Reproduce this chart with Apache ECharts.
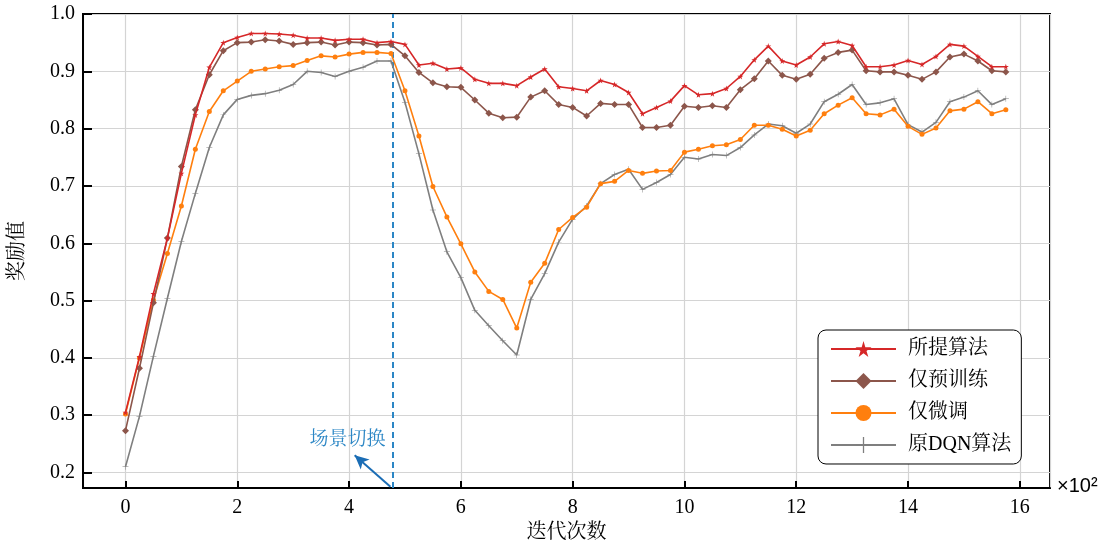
<!DOCTYPE html>
<html>
<head>
<meta charset="utf-8">
<script src="https://cdn.jsdelivr.net/npm/echarts@6/dist/echarts.min.js"></script>
<style>html,body{margin:0;padding:0;background:#fff;}#c{width:1103px;height:546px;}</style>
</head>
<body>
<div id="c"></div>
<script>
// iterations (×10^2)
const iterations = [0,0.25,0.5,0.75,1,1.25,1.5,1.75,2,2.25,2.5,2.75,3,3.25,3.5,3.75,4,4.25,4.5,4.75,5,5.25,5.5,5.75,6,6.25,6.5,6.75,7,7.25,7.5,7.75,8,8.25,8.5,8.75,9,9.25,9.5,9.75,10,10.25,10.5,10.75,11,11.25,11.5,11.75,12,12.25,12.5,12.75,13,13.25,13.5,13.75,14,14.25,14.5,14.75,15,15.25,15.5,15.75];
const seriesNames = ['所提算法','仅预训练','仅微调','原DQN算法'];
const proposed = [0.305,0.402,0.512,0.609,0.722,0.824,0.907,0.950,0.959,0.966,0.966,0.965,0.963,0.958,0.958,0.954,0.956,0.956,0.950,0.952,0.947,0.911,0.914,0.904,0.906,0.886,0.879,0.879,0.875,0.890,0.904,0.873,0.870,0.866,0.884,0.877,0.863,0.826,0.837,0.848,0.875,0.859,0.861,0.870,0.891,0.920,0.944,0.918,0.911,0.925,0.948,0.952,0.945,0.908,0.908,0.911,0.919,0.912,0.926,0.947,0.944,0.926,0.908,0.908];
const pretrainOnly = [0.273,0.382,0.496,0.609,0.734,0.833,0.894,0.936,0.950,0.951,0.955,0.953,0.947,0.950,0.951,0.946,0.951,0.950,0.946,0.947,0.927,0.898,0.880,0.873,0.872,0.850,0.827,0.819,0.820,0.855,0.866,0.842,0.837,0.822,0.844,0.842,0.842,0.802,0.802,0.806,0.839,0.837,0.840,0.837,0.868,0.887,0.918,0.893,0.886,0.895,0.923,0.933,0.937,0.901,0.899,0.899,0.893,0.886,0.899,0.925,0.930,0.918,0.901,0.899];
const finetuneOnly = [0.302,0.400,0.501,0.582,0.665,0.764,0.830,0.866,0.883,0.900,0.904,0.908,0.910,0.919,0.927,0.925,0.930,0.933,0.933,0.931,0.866,0.787,0.699,0.646,0.599,0.550,0.516,0.502,0.452,0.532,0.565,0.624,0.645,0.663,0.704,0.708,0.727,0.722,0.726,0.727,0.759,0.764,0.770,0.772,0.781,0.806,0.806,0.799,0.787,0.797,0.826,0.841,0.854,0.826,0.824,0.834,0.804,0.790,0.801,0.831,0.834,0.847,0.826,0.833];
const originalDQN = [0.210,0.298,0.403,0.504,0.603,0.687,0.767,0.824,0.851,0.858,0.861,0.867,0.877,0.900,0.898,0.891,0.900,0.907,0.918,0.918,0.846,0.756,0.658,0.585,0.540,0.483,0.456,0.430,0.405,0.502,0.547,0.602,0.642,0.665,0.704,0.720,0.729,0.694,0.706,0.720,0.750,0.747,0.755,0.753,0.767,0.789,0.808,0.805,0.792,0.808,0.847,0.860,0.877,0.842,0.845,0.852,0.807,0.794,0.811,0.847,0.855,0.866,0.842,0.852];
const switchX = 4.78;
const switchLabel = '场景切换';
const arrowFrom = [4.74, 0.175];
const arrowTo = [4.10, 0.230];
const labelAt = [3.97, 0.256];

const FONT = "'Liberation Serif', 'Times New Roman', 'Noto Serif CJK SC', 'Noto Sans CJK SC', serif";
const STAR = 'path://M50,0 L61,35 L98,35 L68,57 L79,91 L50,70 L21,91 L32,57 L2,35 L39,35 Z';
const PLUS = 'path://M46,0 H54 V46 H100 V54 H54 V100 H46 V54 H0 V46 H46 Z';

function pairs(vals){ return iterations.map((x,i)=>[x, vals[i]]); }

const chart = echarts.init(document.getElementById('c'), null, {renderer:'canvas'});
const fmt = (v) => {
  const r = Math.round(v);
  return Math.abs(v - r) < 1e-6 && r % 2 === 0 ? String(r) : '';
};
const fmtY = (v) => {
  const r = Math.round(v*10)/10;
  return Math.abs(v - r) < 1e-6 ? r.toFixed(1) : '';
};

const colors = ['#d62728','#8c564b','#ff7f0e','#7f7f7f'];
const symbols = [STAR,'diamond','circle',PLUS];
const sizes = [6,7,5,6];
const datas = [proposed, pretrainOnly, finetuneOnly, originalDQN];

const series = seriesNames.map((n,i)=>({
  name:n, type:'line', data:pairs(datas[i]),
  symbol:symbols[i], symbolSize:sizes[i], showSymbol:true,
  lineStyle:{color:colors[i], width:1.6},
  itemStyle:{color:colors[i]},
  z: 10 - i,
  emphasis:{disabled:true}
}));

series[0].markLine = {
  silent:true, animation:false,
  symbol:['none','none'],
  label:{show:false},
  data:[
    {xAxis:switchX, lineStyle:{color:'#2b86c5', type:[6,4], width:2}},
    [
      {coord:arrowFrom, symbol:'none', lineStyle:{color:'#1b6db5', type:'solid', width:2}},
      {coord:arrowTo, symbol:'arrow', symbolSize:[10,14]}
    ]
  ]
};
series[0].markPoint = {
  silent:true, animation:false,
  data:[{coord:labelAt, symbol:'rect', symbolSize:1, itemStyle:{color:'rgba(0,0,0,0)'},
    label:{show:true, position:'inside', formatter:switchLabel, color:'#2b86c5', fontSize:19, fontFamily:FONT}}]
};

chart.setOption({
  animation:false,
  backgroundColor:'#fff',
  grid:{left:83, right:53, top:14, bottom:58, containLabel:false, outerBoundsMode:'none',
        show:true, borderColor:'#000', borderWidth:2, backgroundColor:'rgba(0,0,0,0)'},
  xAxis:{
    type:'value', min:-0.76, max:16.54, splitNumber:8,
    name:'迭代次数', nameLocation:'middle', nameGap:33,
    nameTextStyle:{fontSize:20, color:'#000', fontFamily:FONT},
    axisLine:{show:true, onZero:false, lineStyle:{color:'#000', width:2}},
    axisTick:{show:true, inside:true, length:7, lineStyle:{color:'#000', width:2}},
    axisLabel:{show:true, margin:10, fontSize:20, color:'#000', fontFamily:FONT, formatter:fmt, showMinLabel:false, showMaxLabel:false},
    splitLine:{show:true, lineStyle:{color:'#d4d4d4', width:1.2}}
  },
  yAxis:{
    type:'value', min:0.173, max:1.0, splitNumber:8,
    name:'奖励值', nameLocation:'middle', nameGap:55, nameRotate:90,
    nameTextStyle:{fontSize:20, color:'#000', fontFamily:FONT},
    axisLine:{show:true, onZero:false, lineStyle:{color:'#000', width:2}},
    axisTick:{show:true, inside:true, length:9, lineStyle:{color:'#000', width:2}},
    axisLabel:{show:true, margin:8, fontSize:20, color:'#000', fontFamily:FONT, formatter:fmtY, showMinLabel:false},
    splitLine:{show:true, lineStyle:{color:'#d4d4d4', width:1.2}}
  },
  legend:{
    show:true, orient:'vertical', left:818, top:330,
    padding:[9,10,9,12], itemWidth:65, itemHeight:20, itemGap:12,
    backgroundColor:'#fff', borderColor:'#000', borderWidth:1, borderRadius:8,
    textStyle:{fontSize:20, color:'#000', fontFamily:FONT, padding:[0,0,0,7]},
    data:seriesNames
  },
  graphic:[{type:'text', left:1057, top:476, style:{text:'×10²', fontSize:20, fill:'#000', font:"20px " + FONT}}],
  series:series
});
</script>
</body>
</html>
